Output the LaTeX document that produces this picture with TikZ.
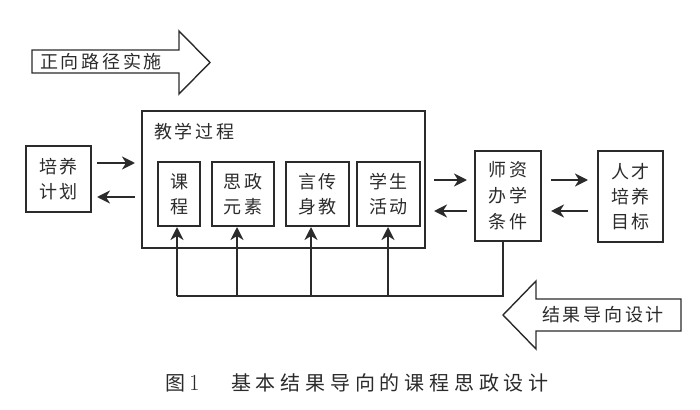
\documentclass[tikz,border=0pt]{standalone}
\usepackage{fontspec}
\newfontfamily\cjk{Noto Sans CJK SC}
\newfontfamily\cjksp[LetterSpace=15]{Noto Sans CJK SC}
\newfontfamily\cjkcap[LetterSpace=24]{Noto Sans CJK SC}
\usetikzlibrary{arrows.meta}
\definecolor{ink}{HTML}{2B2B2B}
\begin{document}
\begin{tikzpicture}[x=1pt,y=-1pt,
  box/.style={draw=ink,line width=2pt,inner sep=0pt,text=ink,align=center,
    font={\cjksp\fontsize{18}{25}\selectfont}},
  arr/.style={draw=ink,line width=2.5pt,-{Stealth[length=13pt,width=13pt,inset=4pt]}},
  fbline/.style={draw=ink,line width=2.5pt},
  bigarrow/.style={draw=ink,line width=1.4pt,fill=white},
  lbl/.style={text=ink,inner sep=0pt,font={\cjksp\fontsize{18}{22}\selectfont}}]
\useasboundingbox (0,0) rectangle (700,409);
% boxes
\node[box,minimum width=65pt,minimum height=66pt] (peiyang) at (58.5,179) {培养\\计划};
\node[box,minimum width=283pt,minimum height=137pt] (big) at (283.5,179.5) {};
\node[lbl,anchor=west] (jxgc) at (154,132) {教学过程};
\node[box,minimum width=42pt,minimum height=64pt] (kecheng) at (179,194) {课\\程};
\node[box,minimum width=62pt,minimum height=64pt] (sizheng) at (243,194) {思政\\元素};
\node[box,minimum width=63pt,minimum height=64pt] (yanchuan) at (317.5,194) {言传\\身教};
\node[box,minimum width=63pt,minimum height=64pt] (xuesheng) at (388.5,194) {学生\\活动};
\node[box,minimum width=66pt,minimum height=90pt,font={\cjksp\fontsize{18}{26}\selectfont}] (shizi) at (508,196) {师资\\办学\\条件};
\node[box,minimum width=65pt,minimum height=91pt,font={\cjksp\fontsize{18}{25}\selectfont}] (rencai) at (630.5,196.5) {人才\\培养\\目标};
% horizontal arrows
\coordinate (yA) at (0,163);
\coordinate (yB) at (0,197);
\coordinate (yC) at (0,180);
\coordinate (yD) at (0,211);
\draw[arr,shorten <=5pt,shorten >=6pt] (peiyang.east |- yA) -- (big.west |- yA);
\draw[arr,shorten <=6pt,shorten >=5pt] (big.west |- yB) -- (peiyang.east |- yB);
\draw[arr,shorten <=8pt,shorten >=7pt] (big.east |- yC) -- (shizi.west |- yC);
\draw[arr,shorten <=7pt,shorten >=8pt] (shizi.west |- yD) -- (big.east |- yD);
\draw[arr,shorten <=9pt,shorten >=9pt] (shizi.east |- yC) -- (rencai.west |- yC);
\draw[arr,shorten <=9pt,shorten >=9pt] (rencai.west |- yD) -- (shizi.east |- yD);
% feedback
\coordinate (fb) at (503,296);
\coordinate (b1) at (177,296);
\coordinate (b2) at (237,296);
\coordinate (b3) at (311,296);
\coordinate (b4) at (388,296);
\draw[fbline,line join=miter] (shizi.south -| fb) -- (fb) -- (b1);
\draw[arr] (b1) -- (kecheng.south -| b1);
\draw[arr] (b2) -- (sizheng.south -| b2);
\draw[arr] (b3) -- (yanchuan.south -| b3);
\draw[arr] (b4) -- (xuesheng.south -| b4);
% big arrows
\draw[bigarrow] (32,50) -- (179,50) -- (179,31) -- (210,62.5) -- (179,94) -- (179,73) -- (32,73) -- cycle;
\node[lbl,anchor=west] (zx) at (40,62) {正向路径实施};
\draw[bigarrow] (681,299) -- (536,299) -- (536,281) -- (503,315) -- (536,349) -- (536,331) -- (681,331) -- cycle;
\node[lbl,anchor=west] (jg) at (542,315) {结果导向设计};
% caption
\node[text=ink,inner sep=0pt,anchor=west,font={\cjk\fontsize{20}{24}\selectfont}] (tu) at (165,383) {图};
\node[text=ink,inner sep=0pt,anchor=west,font={\fontsize{23}{24}\selectfont}] (one) at (189,383) {1};
\node[text=ink,inner sep=0pt,anchor=west,font={\cjkcap\fontsize{20}{24}\selectfont}] (cap) at (231,383) {基本结果导向的课程思政设计};
\end{tikzpicture}
\end{document}
